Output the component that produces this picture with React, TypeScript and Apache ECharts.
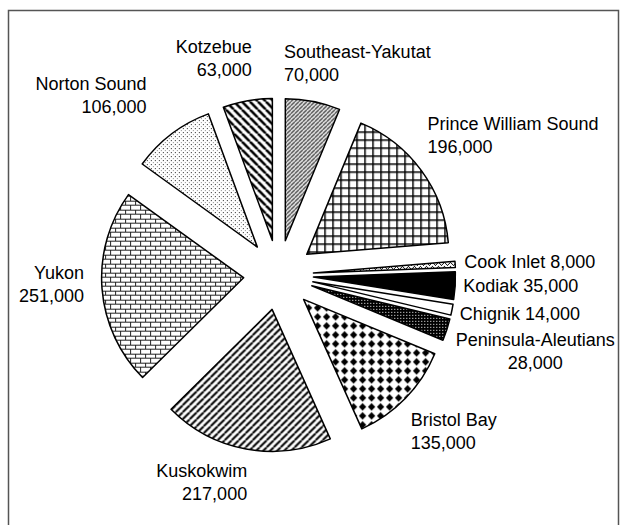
import React, { useEffect, useRef } from 'react';
import * as echarts from 'echarts';

const categories = [
  'Southeast-Yakutat',
  'Prince William Sound',
  'Cook Inlet',
  'Kodiak',
  'Chignik',
  'Peninsula-Aleutians',
  'Bristol Bay',
  'Kuskokwim',
  'Yukon',
  'Norton Sound',
  'Kotzebue',
];
const values = [70000, 196000, 8000, 35000, 14000, 28000, 135000, 217000, 251000, 106000, 63000];
const singleLineLabels = ['Cook Inlet', 'Kodiak', 'Chignik'];
const centeredLabels = ['Peninsula-Aleutians'];

// label nudges (dx, dy) relative to ECharts' outside placement
const labelNudges: [number, number][] = [
  [-36, -28], // Southeast-Yakutat
  [-7, -29], // Prince William Sound
  [-6, -2], // Cook Inlet
  [-7, 0], // Kodiak
  [-7, 2], // Chignik
  [74, 19], // Peninsula-Aleutians
  [-7, 26], // Bristol Bay
  [8, 24], // Kuskokwim
  [-3, -5], // Yukon
  [-14, -31], // Norton Sound
  [11, -32], // Kotzebue
];

function tile(w: number, h: number, draw: (ctx: CanvasRenderingContext2D) => void) {
  const c = document.createElement('canvas');
  c.width = w;
  c.height = h;
  const ctx = c.getContext('2d')!;
  draw(ctx);
  return { image: c, repeat: 'repeat' } as any;
}

function stripes(size: number, lw: number, color: string, dir: 1 | -1) {
  return tile(size, size, (ctx) => {
    ctx.fillStyle = '#fff';
    ctx.fillRect(0, 0, size, size);
    ctx.strokeStyle = color;
    ctx.lineWidth = lw;
    for (let k = -1; k <= 1; k++) {
      ctx.beginPath();
      if (dir === 1) {
        ctx.moveTo(k * size, size);
        ctx.lineTo(k * size + size, 0);
      } else {
        ctx.moveTo(k * size, 0);
        ctx.lineTo(k * size + size, size);
      }
      ctx.stroke();
    }
  });
}

function makePatterns() {
  const se = stripes(4, 1.3, '#333', 1);
  const grid = tile(8, 8, (ctx) => {
    ctx.fillStyle = '#fff';
    ctx.fillRect(0, 0, 8, 8);
    ctx.fillStyle = '#000';
    ctx.fillRect(0, 0, 8, 1.5);
    ctx.fillRect(0, 0, 1.5, 8);
  });
  const cook = tile(6, 4, (ctx) => {
    ctx.fillStyle = '#fff';
    ctx.fillRect(0, 0, 6, 4);
    ctx.fillStyle = '#000';
    ctx.fillRect(0, 1, 1, 1);
    ctx.fillRect(1, 0, 1, 1);
    ctx.fillRect(2, 1, 1, 1);
    ctx.fillRect(3, 2, 1, 1);
    ctx.fillRect(4, 3, 1, 1);
    ctx.fillRect(5, 2, 1, 1);
  });
  const pen = tile(3, 3, (ctx) => {
    ctx.fillStyle = '#000';
    ctx.fillRect(0, 0, 3, 3);
    ctx.fillStyle = '#fff';
    ctx.fillRect(1, 1, 1, 1);
  });
  const diamonds = tile(9, 9, (ctx) => {
    ctx.fillStyle = '#fff';
    ctx.fillRect(0, 0, 9, 9);
    ctx.fillStyle = '#000';
    ctx.beginPath();
    ctx.moveTo(4.5, 0.8);
    ctx.lineTo(8.2, 4.5);
    ctx.lineTo(4.5, 8.2);
    ctx.lineTo(0.8, 4.5);
    ctx.closePath();
    ctx.fill();
  });
  const kusk = stripes(7, 2, '#000', 1);
  const bricks = tile(10, 9, (ctx) => {
    ctx.fillStyle = '#fff';
    ctx.fillRect(0, 0, 10, 9);
    ctx.fillStyle = '#222';
    ctx.fillRect(0, 0, 10, 1);
    ctx.fillRect(0, 4, 10, 1);
    ctx.fillRect(0, 0, 1, 4);
    ctx.fillRect(5, 4, 1, 5);
  });
  const dots = tile(4, 4, (ctx) => {
    ctx.fillStyle = '#fff';
    ctx.fillRect(0, 0, 4, 4);
    ctx.fillStyle = '#222';
    ctx.fillRect(0, 0, 1, 1);
    ctx.fillStyle = '#888';
    ctx.fillRect(2, 2, 1, 1);
  });
  const kotz = stripes(8, 2.6, '#000', -1);
  return [se, grid, cook, '#000', '#fff', pen, diamonds, kusk, bricks, dots, kotz];
}

function fmt(v: number) {
  return v.toLocaleString('en-US');
}

export default function App() {
  const ref = useRef<HTMLDivElement>(null);
  useEffect(() => {
    if (!ref.current) return;
    const chart = echarts.init(ref.current, undefined, { renderer: 'svg' });
    const patterns = makePatterns();
    chart.setOption({
      animation: false,
      backgroundColor: '#fff',
      graphic: [
        {
          type: 'rect',
          silent: true,
          shape: { x: 8.5, y: 10.5, width: 610, height: 525 },
          style: { fill: 'none', stroke: '#555', lineWidth: 1.5 },
        },
      ],
      series: [
        {
          type: 'pie',
          center: [278.5, 275],
          radius: 142,
          startAngle: 90,
          clockwise: true,
          selectedMode: 'multiple',
          selectedOffset: 35,
          avoidLabelOverlap: false,
          emphasis: { disabled: true },
          itemStyle: { borderColor: '#000', borderWidth: 1.5 },
          select: { itemStyle: { borderColor: '#000', borderWidth: 1.5 } },
          label: {
            show: true,
            position: 'outside',
            color: '#000',
            fontFamily: '"Liberation Sans", Arial, sans-serif',
            fontSize: 18,
            lineHeight: 23,
            formatter: (p: any) =>
              singleLineLabels.includes(p.name) ? `${p.name} ${fmt(p.value)}` : `${p.name}\n${fmt(p.value)}`,
          },
          labelLine: { show: false, length: 10, length2: 0 },
          labelLayout: (params: any) => {
            const n = labelNudges[params.dataIndex] || [0, 0];
            const out: any = { dx: n[0], dy: n[1] };
            if (centeredLabels.includes(categories[params.dataIndex])) out.align = 'center';
            return out;
          },
          data: categories.map((name, i) => ({
            name,
            value: values[i],
            selected: true,
            itemStyle: { color: patterns[i] },
          })),
        },
      ],
    });
    return () => chart.dispose();
  }, []);
  return (
    <div
      ref={ref}
      style={{ position: 'absolute', left: 0, top: 0, width: 624, height: 525, background: '#fff' }}
    />
  );
}
